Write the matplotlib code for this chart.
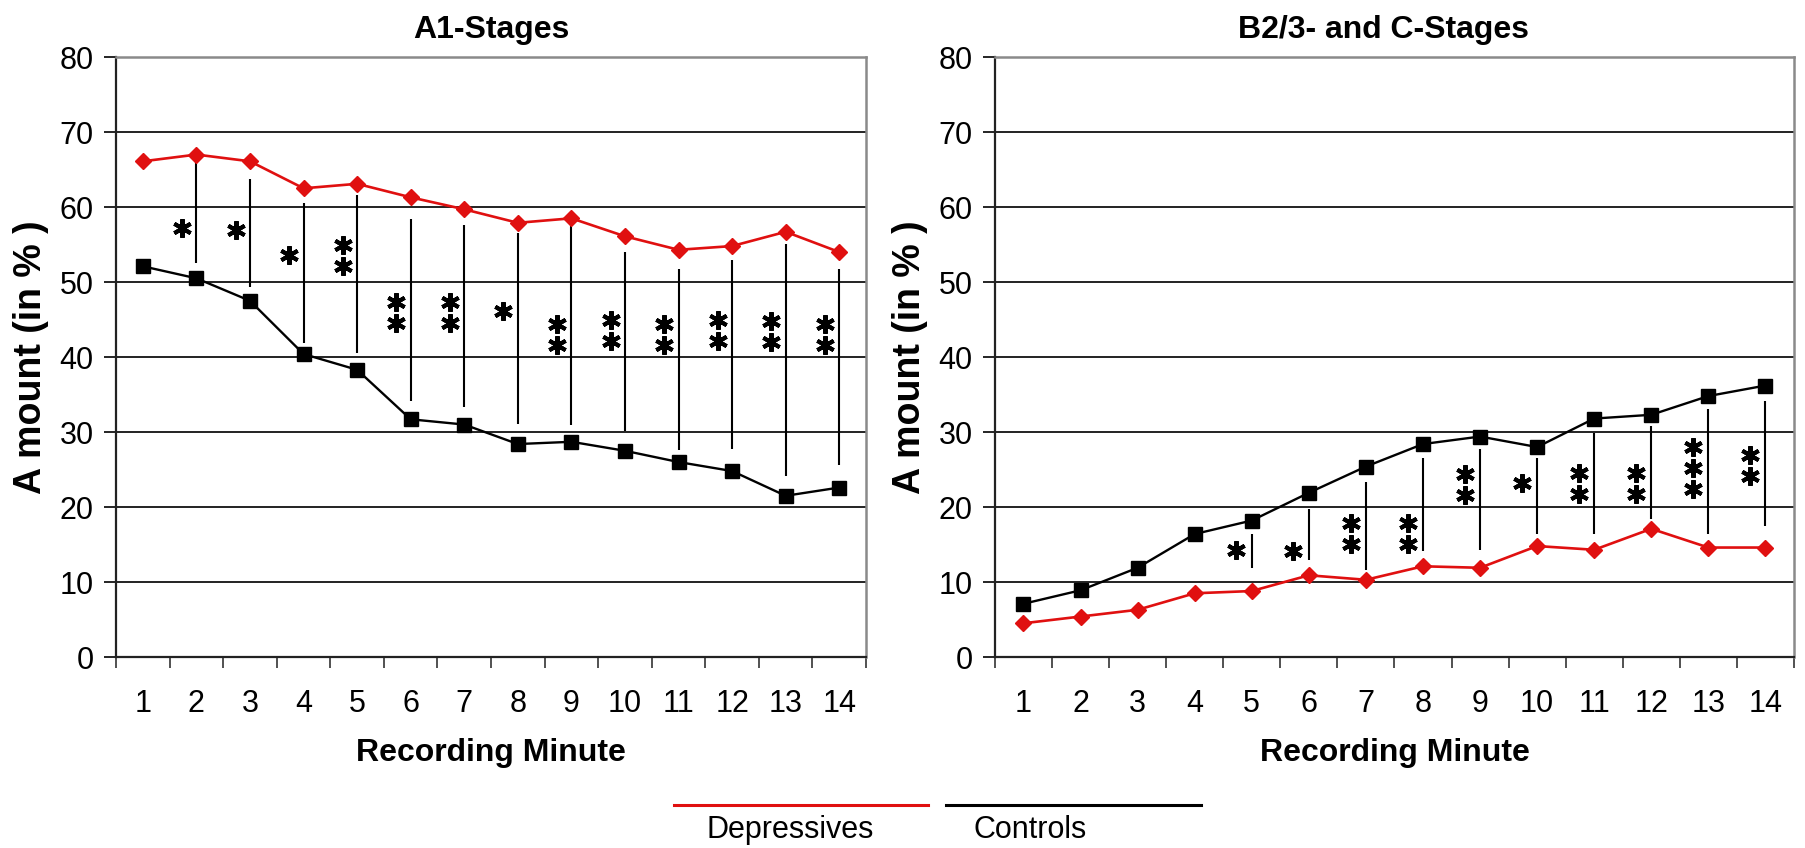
import numpy as np
import matplotlib
matplotlib.use("Agg")
import matplotlib.pyplot as plt
from matplotlib.lines import Line2D

plt.rcParams['font.family'] = ['Liberation Sans', 'DejaVu Sans']

# Data
minutes = list(range(1, 15))
a1_dep = [66.1, 67.0, 66.1, 62.5, 63.1, 61.3, 59.7, 57.9, 58.5, 56.1, 54.3, 54.8, 56.7, 54.0]
a1_con = [52.1, 50.5, 47.5, 40.4, 38.3, 31.7, 31.0, 28.4, 28.7, 27.5, 26.0, 24.8, 21.5, 22.6]
a1_sig = ['', '*', '*', '*', '**', '**', '**', '*', '**', '**', '**', '**', '**', '**']
a1_star_y = [np.nan, 57.2, 57.0, 53.6, 53.6, 46.0, 46.0, 46.1, 43.0, 43.5, 43.0, 43.5, 43.4, 43.0]
a1_line_top = [np.nan, 66.0, 63.8, 60.5, 61.6, 58.4, 57.6, 56.6, 57.5, 54.0, 51.8, 52.9, 55.1, 51.8]
a1_line_bot = [np.nan, 52.6, 49.3, 41.9, 40.6, 34.2, 33.3, 31.1, 30.9, 30.1, 27.6, 27.8, 24.2, 25.6]

b_dep = [4.5, 5.4, 6.3, 8.5, 8.8, 10.9, 10.3, 12.1, 11.9, 14.8, 14.3, 17.1, 14.6, 14.6]
b_con = [7.1, 8.9, 11.9, 16.4, 18.2, 21.9, 25.4, 28.4, 29.4, 28.0, 31.8, 32.3, 34.8, 36.2]
b_sig = ['', '', '', '', '*', '*', '**', '**', '**', '*', '**', '**', '***', '**']
b_star_y = [np.nan] * 4 + [14.3, 14.2, 16.5, 16.5, 23.0, 23.2, 23.2, 23.2, 25.2, 25.5]
b_line_top = [np.nan] * 4 + [16.4, 19.8, 23.3, 26.6, 27.7, 26.6, 29.9, 30.8, 33.1, 34.1]
b_line_bot = [np.nan] * 4 + [11.9, 12.9, 11.6, 14.1, 14.3, 16.4, 16.4, 18.4, 16.4, 17.5]

yticks = [0, 10, 20, 30, 40, 50, 60, 70, 80]
RED = '#e01010'

fig = plt.figure(figsize=(18.05, 8.48), dpi=100)
ax1 = fig.add_axes([0.0643, 0.2252, 0.4155, 0.7075])
ax2 = fig.add_axes([0.5512, 0.2252, 0.4427, 0.7075])


def draw_panel(ax, title, dep, con, sig, star_y, ltop, lbot, title_x, ylab_x):
    ax.set_xlim(0.5, 14.5)
    ax.set_ylim(0, 80)
    ax.set_yticks(yticks)
    ax.set_yticklabels([str(v) for v in yticks])
    for v in yticks[1:-1]:
        ax.axhline(v, color='#222222', lw=1.4, zorder=1)
    # boundaries as major ticks, labels on minor ticks
    ax.set_xticks(np.arange(0.5, 15, 1))
    ax.set_xticklabels([])
    ax.set_xticks(minutes, minor=True)
    ax.set_xticklabels([str(m) for m in minutes], minor=True)
    ax.tick_params(axis='x', which='major', direction='out', length=8, width=1.2, color='#333333')
    ax.tick_params(axis='x', which='minor', length=0, pad=23, labelsize=22)
    ax.tick_params(axis='y', direction='out', length=9, width=1.2, pad=7, labelsize=22)

    for sp in ['left', 'bottom']:
        ax.spines[sp].set_color('#222222')
        ax.spines[sp].set_linewidth(1.6)
    for sp in ['top', 'right']:
        ax.spines[sp].set_color('#8a8a8a')
        ax.spines[sp].set_linewidth(1.8)

    # significance lines and asterisks
    ax.vlines(minutes, lbot, ltop, color='black', lw=1.5, zorder=2)
    step = 2.8
    for m, s, yc in zip(minutes, sig, star_y):
        n = len(s)
        for k in range(n):
            ax.plot(m - 0.27, yc + ((n - 1) / 2 - k) * step, marker=(6, 2, 0),
                    ms=13.5, mew=2.9, color='black', zorder=3)

    ax.plot(minutes, dep, color=RED, lw=1.9, marker='D', ms=8.5, mec=RED, mfc=RED, zorder=4)
    ax.plot(minutes, con, color='black', lw=1.7, marker='s', ms=10, zorder=4)

    ax.set_title(title, fontsize=23, fontweight='bold', pad=14, x=title_x)
    ax.set_xlabel('Recording Minute', fontsize=23, fontweight='bold', labelpad=14)
    ax.set_ylabel('A mount (in % )', fontsize=27, fontweight='bold')
    ax.yaxis.set_label_coords(ylab_x, 0.5)


draw_panel(ax1, 'A1-Stages', a1_dep, a1_con, a1_sig, a1_star_y, a1_line_top, a1_line_bot,
           0.5, -0.09)
draw_panel(ax2, 'B2/3- and C-Stages', b_dep, b_con, b_sig, b_star_y, b_line_top, b_line_bot,
           0.486, -0.084)

# legend below: line above label
fig.add_artist(Line2D([674 / 1805, 928 / 1805], [1 - 805 / 848] * 2, color=RED, lw=2.2))
fig.add_artist(Line2D([946 / 1805, 1201 / 1805], [1 - 805 / 848] * 2, color='black', lw=2.2))
fig.text(790 / 1805, 1 - 830 / 848, 'Depressives', ha='center', va='center', fontsize=22)
fig.text(1030 / 1805, 1 - 830 / 848, 'Controls', ha='center', va='center', fontsize=22)

fig.savefig('out.png', dpi=100)
